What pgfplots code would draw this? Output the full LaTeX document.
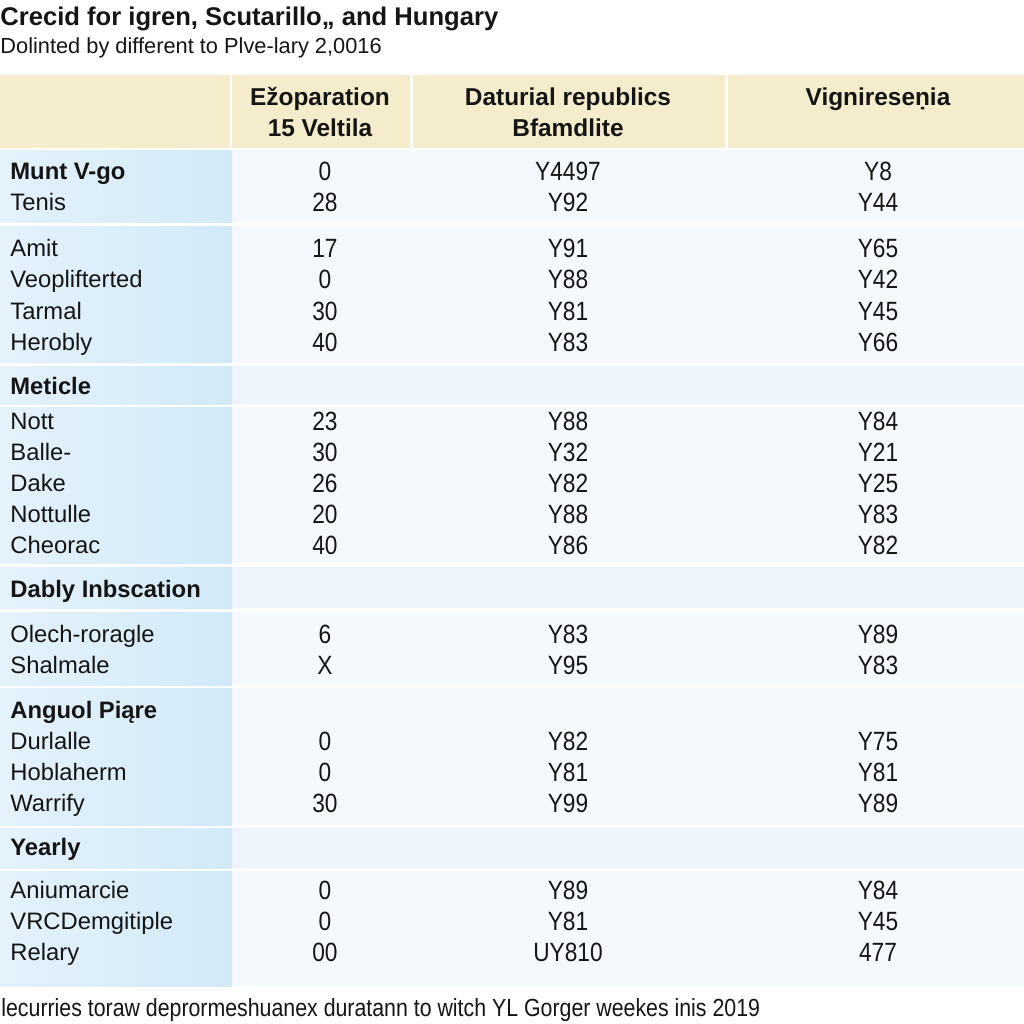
\documentclass[border=0pt]{standalone}
\usepackage{pgfplots}
\pgfplotsset{compat=1.18}
\usepackage{pgfplotstable}
\usepackage{fontspec}
\setmainfont{Liberation Sans}
\newfontfamily\condfont[FakeStretch=0.86]{Liberation Sans}
\definecolor{beige}{HTML}{F4ECCB}
\definecolor{lblA}{HTML}{E4F2FB}
\definecolor{lblB}{HTML}{D2EAF8}
\definecolor{rowbg}{HTML}{F5F9FD}
\definecolor{subbg}{HTML}{EDF4FB}
\definecolor{txt}{HTML}{151515}

\pgfplotstableread{
y lab
202 Tenis
248 Amit
279 Veoplifterted
311 Tarmal
342 Herobly
421 Nott
452 Balle-
483 Dake
514 Nottulle
545 Cheorac
634 Olech-roragle
665 Shalmale
741 Durlalle
772 Hoblaherm
803 Warrify
890 Aniumarcie
921 VRCDemgitiple
952 Relary
}\labels

\pgfplotstableread{
y lab
171 {Munt V-go}
386 Meticle
589 {Dably Inbscation}
847 Yearly
}\boldlabels

\pgfplotstableread{
y a b c
171 0 Y4497 Y8
202 28 Y92 Y44
248 17 Y91 Y65
279 0 Y88 Y42
311 30 Y81 Y45
342 40 Y83 Y66
421 23 Y88 Y84
452 30 Y32 Y21
483 26 Y82 Y25
514 20 Y88 Y83
545 40 Y86 Y82
634 6 Y83 Y89
665 X Y95 Y83
741 0 Y82 Y75
772 0 Y81 Y81
803 30 Y99 Y89
890 0 Y89 Y84
921 0 Y81 Y45
952 00 UY810 477
}\values

\begin{document}
\begin{tikzpicture}
\begin{axis}[
  width=512pt, height=512pt, scale only axis,
  xmin=0, xmax=1024, ymin=0, ymax=1024, y dir=reverse,
  hide axis, clip=true,
]
% background
\fill[white] (axis cs:0,0) rectangle (axis cs:1024,1024);
% header cells
\fill[beige] (axis cs:0,75) rectangle (axis cs:230,148);
\fill[beige] (axis cs:232,75) rectangle (axis cs:410,148);
\fill[beige] (axis cs:413,75) rectangle (axis cs:725,148);
\fill[beige] (axis cs:728,75) rectangle (axis cs:1024,148);
% body blocks: value area
\fill[rowbg] (axis cs:232,150) rectangle (axis cs:1024,222);
\fill[rowbg] (axis cs:232,226) rectangle (axis cs:1024,362);
\fill[subbg] (axis cs:232,366) rectangle (axis cs:1024,404);
\fill[rowbg] (axis cs:232,407) rectangle (axis cs:1024,563);
\fill[subbg] (axis cs:232,567) rectangle (axis cs:1024,608);
\fill[rowbg] (axis cs:232,612) rectangle (axis cs:1024,685);
\fill[rowbg] (axis cs:232,688) rectangle (axis cs:1024,825);
\fill[subbg] (axis cs:232,828) rectangle (axis cs:1024,868);
\fill[rowbg] (axis cs:232,871) rectangle (axis cs:1024,986);
% body blocks: label column
\fill[left color=lblA, right color=lblB] (axis cs:0,150) rectangle (axis cs:232,222);
\fill[left color=lblA, right color=lblB] (axis cs:0,226) rectangle (axis cs:232,362);
\fill[left color=lblA, right color=lblB] (axis cs:0,366) rectangle (axis cs:232,404);
\fill[left color=lblA, right color=lblB] (axis cs:0,407) rectangle (axis cs:232,563);
\fill[left color=lblA, right color=lblB] (axis cs:0,567) rectangle (axis cs:232,608);
\fill[left color=lblA, right color=lblB] (axis cs:0,612) rectangle (axis cs:232,685);
\fill[left color=lblA, right color=lblB] (axis cs:0,688) rectangle (axis cs:232,825);
\fill[left color=lblA, right color=lblB] (axis cs:0,828) rectangle (axis cs:232,868);
\fill[left color=lblA, right color=lblB] (axis cs:0,871) rectangle (axis cs:232,986);
% title
\node[anchor=base west, inner sep=0, font=\bfseries\fontsize{12.8}{14}\selectfont, text=txt] at (axis cs:0,25) {Crecid for igren, Scutarillo„ and Hungary};
\node[anchor=base west, inner sep=0, font=\fontsize{10.9}{12}\selectfont, text=txt] at (axis cs:0,53) {Dolinted by different to Plve-lary 2,0016};
% column headers
\node[align=center, inner sep=0, font=\bfseries\fontsize{12.2}{15.5}\selectfont, text=txt] at (axis cs:320,112) {Ežoparation\\15 Veltila};
\node[align=center, inner sep=0, font=\bfseries\fontsize{12.2}{15.5}\selectfont, text=txt] at (axis cs:568,112) {Daturial republics\\Bfamdlite};
\node[anchor=base, inner sep=0, font=\bfseries\fontsize{12.2}{15.5}\selectfont, text=txt] at (axis cs:878,105) {Vignireseṇia};
\node[anchor=base west, inner sep=0, font=\bfseries\fontsize{11.9}{13}\selectfont, text=txt] at (axis cs:10,718.5) {Anguol Piąre};
% labels
\addplot[draw=none, mark=none, nodes near coords, point meta=explicit symbolic,
  nodes near coords align=center,
  every node near coord/.append style={anchor=base west, yshift=-4.3pt, inner sep=0, font=\fontsize{11.9}{13}\selectfont, text=txt}]
  table[x expr=10, y=y, meta=lab] {\labels};
\addplot[draw=none, mark=none, nodes near coords, point meta=explicit symbolic,
  nodes near coords align=center,
  every node near coord/.append style={anchor=base west, yshift=-4.3pt, inner sep=0, font=\bfseries\fontsize{11.9}{13}\selectfont, text=txt}]
  table[x expr=10, y=y, meta=lab] {\boldlabels};
% values
\addplot[draw=none, mark=none, nodes near coords, point meta=explicit symbolic,
  nodes near coords align=center,
  every node near coord/.append style={anchor=base, yshift=-4.6pt, inner sep=0, font=\condfont\fontsize{13.2}{14}\selectfont, text=txt}]
  table[x expr=325, y=y, meta=a] {\values};
\addplot[draw=none, mark=none, nodes near coords, point meta=explicit symbolic,
  nodes near coords align=center,
  every node near coord/.append style={anchor=base, yshift=-4.6pt, inner sep=0, font=\condfont\fontsize{13.2}{14}\selectfont, text=txt}]
  table[x expr=568, y=y, meta=b] {\values};
\addplot[draw=none, mark=none, nodes near coords, point meta=explicit symbolic,
  nodes near coords align=center,
  every node near coord/.append style={anchor=base, yshift=-4.6pt, inner sep=0, font=\condfont\fontsize{13.2}{14}\selectfont, text=txt}]
  table[x expr=878, y=y, meta=c] {\values};
% footer
\node[anchor=base west, inner sep=0, font=\condfont\fontsize{12.4}{13}\selectfont, text=txt] at (axis cs:1,1016) {lecurries toraw deprormeshuanex duratann to witch YL Gorger weekes inis 2019};
\end{axis}
\end{tikzpicture}
\end{document}
